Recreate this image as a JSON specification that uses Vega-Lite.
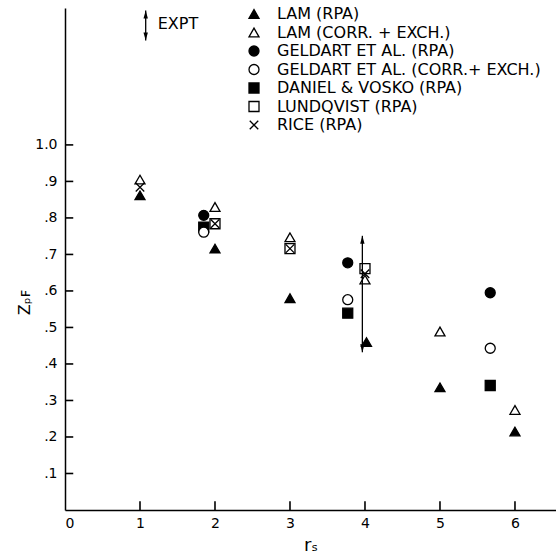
{
  "$schema": "https://vega.github.io/schema/vega-lite/v6.json",
  "width": 491,
  "height": 502,
  "autosize": "none",
  "padding": {"left": 65, "top": 8, "right": 0, "bottom": 50},
  "background": "white",
  "config": {
    "view": {"stroke": null},
    "font": "DejaVu Sans",
    "axis": {
      "grid": false,
      "ticks": false,
      "domainColor": "black",
      "domainWidth": 1.5,
      "labelColor": "black",
      "labelFont": "DejaVu Sans",
      "labelFontSize": 14,
      "titleColor": "black",
      "titleFont": "DejaVu Sans",
      "titleFontWeight": "normal"
    }
  },
  "datasets": {
    "pts": [
      {"series": "LAM (RPA)", "r": 1.0, "z": 0.862},
      {"series": "LAM (RPA)", "r": 2.0, "z": 0.716},
      {"series": "LAM (RPA)", "r": 3.0, "z": 0.58},
      {"series": "LAM (RPA)", "r": 4.02, "z": 0.46},
      {"series": "LAM (RPA)", "r": 5.0, "z": 0.336},
      {"series": "LAM (RPA)", "r": 6.0, "z": 0.215},
      {"series": "DANIEL & VOSKO (RPA)", "r": 1.85, "z": 0.775},
      {"series": "DANIEL & VOSKO (RPA)", "r": 3.77, "z": 0.539},
      {"series": "DANIEL & VOSKO (RPA)", "r": 5.67, "z": 0.341},
      {"series": "GELDART ET AL. (RPA)", "r": 1.85, "z": 0.807},
      {"series": "GELDART ET AL. (RPA)", "r": 3.77, "z": 0.677},
      {"series": "GELDART ET AL. (RPA)", "r": 5.67, "z": 0.595},
      {"series": "GELDART ET AL. (CORR.+ EXCH.)", "r": 1.85, "z": 0.761},
      {"series": "GELDART ET AL. (CORR.+ EXCH.)", "r": 3.77, "z": 0.576},
      {"series": "GELDART ET AL. (CORR.+ EXCH.)", "r": 5.67, "z": 0.443},
      {"series": "LAM (CORR. + EXCH.)", "r": 1.0, "z": 0.905},
      {"series": "LAM (CORR. + EXCH.)", "r": 2.0, "z": 0.83},
      {"series": "LAM (CORR. + EXCH.)", "r": 3.0, "z": 0.747},
      {"series": "LAM (CORR. + EXCH.)", "r": 4.0, "z": 0.631},
      {"series": "LAM (CORR. + EXCH.)", "r": 5.0, "z": 0.489},
      {"series": "LAM (CORR. + EXCH.)", "r": 6.0, "z": 0.274},
      {"series": "LUNDQVIST (RPA)", "r": 2.0, "z": 0.784},
      {"series": "LUNDQVIST (RPA)", "r": 3.0, "z": 0.716},
      {"series": "LUNDQVIST (RPA)", "r": 4.0, "z": 0.661},
      {"series": "RICE (RPA)", "r": 1.0, "z": 0.884},
      {"series": "RICE (RPA)", "r": 2.0, "z": 0.784},
      {"series": "RICE (RPA)", "r": 3.0, "z": 0.716},
      {"series": "RICE (RPA)", "r": 4.0, "z": 0.647}
    ],
    "expt": [
      {"r": 3.965, "z": 0.432, "z2": 0.751},
      {"r": 1.076, "z": 1.286, "z2": 1.368}
    ],
    "notes": [
      {"r": 1.236, "z": 1.33, "label": "EXPT"}
    ],
    "xticks": [{"r": 1}, {"r": 2}, {"r": 3}, {"r": 4}, {"r": 5}, {"r": 6}],
    "yticks": [{"z": 0.1}, {"z": 0.2}, {"z": 0.3}, {"z": 0.4}, {"z": 0.5}, {"z": 0.6}, {"z": 0.7}, {"z": 0.8}, {"z": 0.9}, {"z": 1.0}]
  },
  "layer": [
    {
      "data": {"name": "xticks"},
      "mark": {"type": "rule", "color": "black", "strokeWidth": 1.6, "opacity": 1},
      "encoding": {
        "x": {"field": "r", "type": "quantitative", "title": "rₛ"},
        "y": {"datum": 0, "type": "quantitative", "title": "Zₚꜰ"},
        "y2": {"datum": 0.024}
      }
    },
    {
      "data": {"name": "yticks"},
      "mark": {"type": "rule", "color": "black", "strokeWidth": 1.6, "opacity": 1},
      "encoding": {
        "x": {"datum": 0, "type": "quantitative", "title": "rₛ"},
        "x2": {"datum": 0.11},
        "y": {"field": "z", "type": "quantitative", "title": "Zₚꜰ"}
      }
    },
    {
      "data": {"name": "pts"},
      "mark": {"type": "point", "strokeWidth": 1.3, "size": 100, "opacity": 1, "fillOpacity": 1},
      "encoding": {
        "x": {
          "field": "r", "type": "quantitative", "title": "rₛ",
          "scale": {"domain": [0, 6.547], "nice": false, "zero": false},
          "axis": {"orient": "bottom", "values": [0, 1, 2, 3, 4, 5, 6], "format": "d", "labelPadding": 6, "titleFontSize": 18, "titlePadding": 6}
        },
        "y": {
          "field": "z", "type": "quantitative", "title": "Zₚꜰ",
          "scale": {"domain": [0, 1.375], "nice": false},
          "axis": {
            "orient": "left",
            "values": [0.1, 0.2, 0.3, 0.4, 0.5, 0.6, 0.7, 0.8, 0.9, 1.0],
            "labelExpr": "datum.value >= 0.99 ? '1.0' : replace(format(datum.value, '.1f'), '0.', '.')",
            "labelPadding": 8,
            "titleFontSize": 16,
            "titleAngle": 270,
            "titleAlign": "center",
            "titleBaseline": "middle",
            "titleX": -41,
            "titleY": 294
          }
        },
        "shape": {
          "field": "series", "type": "nominal",
          "scale": {
            "domain": ["LAM (RPA)", "LAM (CORR. + EXCH.)", "GELDART ET AL. (RPA)", "GELDART ET AL. (CORR.+ EXCH.)", "DANIEL & VOSKO (RPA)", "LUNDQVIST (RPA)", "RICE (RPA)"],
            "range": ["triangle-up", "triangle-up", "circle", "circle", "square", "square", "M-0.85,-0.85L0.85,0.85M0.85,-0.85L-0.85,0.85"]
          },
          "legend": {"title": null, "orient": "none", "legendX": 181, "legendY": -2, "labelFont": "DejaVu Sans", "labelFontSize": 16, "labelColor": "black", "labelOffset": 15, "rowPadding": 2.5, "symbolSize": 100, "symbolStrokeWidth": 1.3, "padding": 0, "labelLimit": 400}
        },
        "fill": {
          "field": "series", "type": "nominal",
          "scale": {
            "domain": ["LAM (RPA)", "LAM (CORR. + EXCH.)", "GELDART ET AL. (RPA)", "GELDART ET AL. (CORR.+ EXCH.)", "DANIEL & VOSKO (RPA)", "LUNDQVIST (RPA)", "RICE (RPA)"],
            "range": ["black", "white", "black", "white", "black", "white", "transparent"]
          },
          "legend": {"title": null, "orient": "none", "legendX": 181, "legendY": -2, "labelFont": "DejaVu Sans", "labelFontSize": 16, "labelColor": "black", "labelOffset": 15, "rowPadding": 2.5, "symbolSize": 100, "symbolStrokeWidth": 1.3, "padding": 0, "labelLimit": 400}
        },
        "stroke": {
          "field": "series", "type": "nominal",
          "scale": {
            "domain": ["LAM (RPA)", "LAM (CORR. + EXCH.)", "GELDART ET AL. (RPA)", "GELDART ET AL. (CORR.+ EXCH.)", "DANIEL & VOSKO (RPA)", "LUNDQVIST (RPA)", "RICE (RPA)"],
            "range": ["black", "black", "black", "black", "black", "black", "black"]
          },
          "legend": {"title": null, "orient": "none", "legendX": 181, "legendY": -2, "labelFont": "DejaVu Sans", "labelFontSize": 16, "labelColor": "black", "labelOffset": 15, "rowPadding": 2.5, "symbolSize": 100, "symbolStrokeWidth": 1.3, "padding": 0, "labelLimit": 400}
        }
      }
    },
    {
      "data": {"name": "expt"},
      "mark": {"type": "rule", "color": "black", "strokeWidth": 1.3},
      "encoding": {
        "x": {"field": "r", "type": "quantitative", "title": "rₛ"},
        "y": {"field": "z", "type": "quantitative", "title": "Zₚꜰ"},
        "y2": {"field": "z2"}
      }
    },
    {
      "data": {"name": "expt"},
      "mark": {"type": "point", "shape": "M0,0L0.55,-2L-0.55,-2Z", "filled": true, "color": "black", "size": 64, "opacity": 1},
      "encoding": {
        "x": {"field": "r", "type": "quantitative", "title": "rₛ"},
        "y": {"field": "z", "type": "quantitative", "title": "Zₚꜰ"}
      }
    },
    {
      "data": {"name": "expt"},
      "mark": {"type": "point", "shape": "M0,0L0.55,2L-0.55,2Z", "filled": true, "color": "black", "size": 64, "opacity": 1},
      "encoding": {
        "x": {"field": "r", "type": "quantitative", "title": "rₛ"},
        "y": {"field": "z2", "type": "quantitative", "title": "Zₚꜰ"}
      }
    },
    {
      "data": {"name": "notes"},
      "mark": {"type": "text", "align": "left", "baseline": "middle", "font": "DejaVu Sans", "fontSize": 16, "color": "black"},
      "encoding": {
        "x": {"field": "r", "type": "quantitative", "title": "rₛ"},
        "y": {"field": "z", "type": "quantitative", "title": "Zₚꜰ"},
        "text": {"field": "label"}
      }
    }
  ]
}
